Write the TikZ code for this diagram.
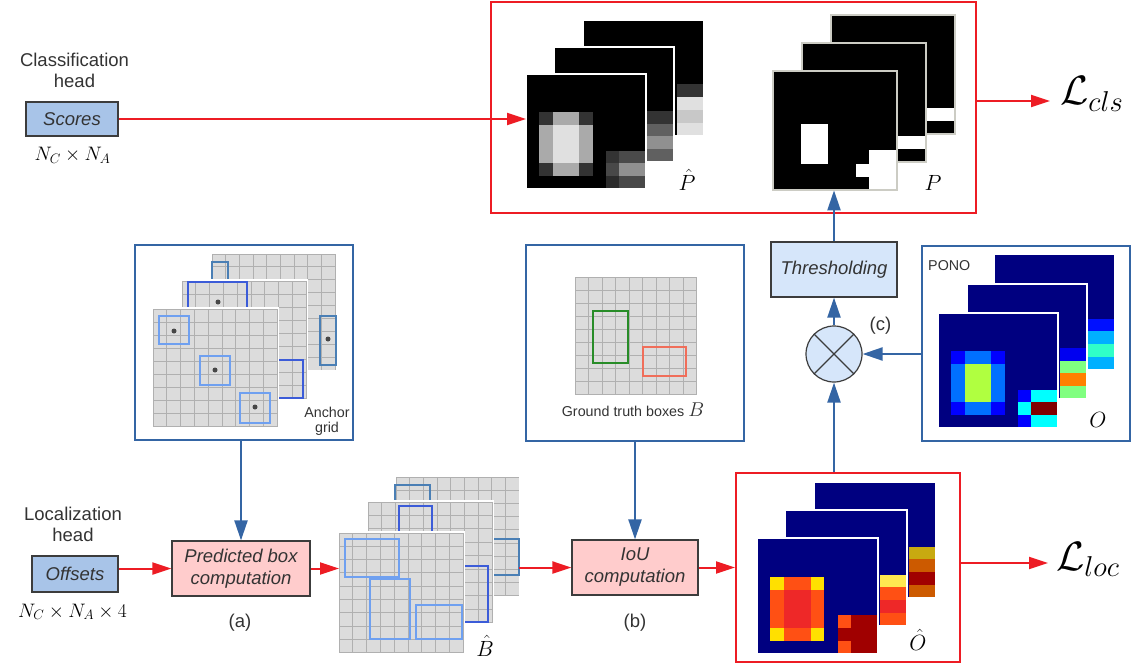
\RequirePackage{fix-cm}
\documentclass[tikz,border=0pt]{standalone}
\usepackage{fontspec}
\setmainfont{Liberation Sans}
\usetikzlibrary{arrows.meta}
\definecolor{redA}{RGB}{237,28,36}
\definecolor{blueA}{RGB}{52,101,164}
\definecolor{boxfill}{RGB}{168,196,232}
\definecolor{lightfill}{RGB}{214,230,250}
\definecolor{pinkfill}{RGB}{255,204,204}
\definecolor{boxdraw}{RGB}{60,60,60}
\definecolor{txt}{RGB}{51,51,51}
\definecolor{gridfill}{RGB}{220,220,220}
\definecolor{gridline}{RGB}{176,176,176}
\definecolor{ancA}{RGB}{111,160,240}
\definecolor{ancB}{RGB}{60,92,216}
\definecolor{ancC}{RGB}{74,127,181}
\definecolor{gtgreen}{RGB}{40,140,40}
\definecolor{gtred}{RGB}{240,110,90}
\definecolor{pborder}{RGB}{204,204,196}
% gray levels
\definecolor{gA}{RGB}{51,51,51}
\definecolor{gB}{RGB}{170,170,170}
\definecolor{gC}{RGB}{224,224,224}
\definecolor{gD}{RGB}{74,74,74}
\definecolor{gE}{RGB}{72,72,72}
\definecolor{gF}{RGB}{144,144,144}
\definecolor{gG}{RGB}{43,43,43}
\definecolor{gH}{RGB}{96,96,96}
\definecolor{gI}{RGB}{200,200,200}
% jet
\definecolor{navy}{RGB}{0,0,128}
\definecolor{jB}{RGB}{0,0,255}
\definecolor{jD}{RGB}{0,112,255}
\definecolor{jY}{RGB}{176,255,64}
\definecolor{jC}{RGB}{0,255,255}
\definecolor{jR}{RGB}{128,0,0}
\definecolor{jB2}{RGB}{0,0,240}
\definecolor{jLG}{RGB}{128,255,128}
\definecolor{jO}{RGB}{255,128,0}
\definecolor{jB3}{RGB}{0,16,255}
\definecolor{jS}{RGB}{0,176,255}
\definecolor{jA}{RGB}{48,255,200}
% hot
\definecolor{hY}{RGB}{255,224,0}
\definecolor{hO}{RGB}{255,80,20}
\definecolor{hR}{RGB}{238,40,40}
\definecolor{hD}{RGB}{160,0,0}
\definecolor{hLY}{RGB}{255,232,80}
\definecolor{hG}{RGB}{200,170,16}
\definecolor{hK}{RGB}{204,90,0}

\newcommand\gridlayer[4]{%
 \begin{scope}[shift={(#1,#2)},x=#3pt,y=-#4pt]
 \fill[gridfill] (0,0) rectangle (9,9);
 \foreach \kk in {0,...,9}{\draw[gridline,line width=1pt] (\kk,0) -- (\kk,9); \draw[gridline,line width=1pt] (0,\kk) -- (9,\kk);}
 \draw[white,line width=1.6pt] (-0.08,-0.08) rectangle (9.08,9.08);
 \end{scope}}
\newcommand\pixlayer[7]{%
 \begin{scope}[shift={(#1,#2)},x=#3pt,y=-#4pt]
 \fill[#5] (0,0) rectangle (9,9);
 \foreach \pA/\pB/\pC/\pD/\pE in {#6}{\fill[\pA] (\pB,\pC) rectangle ++(\pD,\pE);}
 \draw[#7,line width=1.4pt] (0,0) rectangle (9,9);
 \end{scope}}

\begin{document}
\begin{tikzpicture}[x=1pt,y=-1pt,
  lab/.style={font=\fontsize{18.5}{21}\selectfont, text=txt, inner sep=0pt},
  small/.style={font=\fontsize{14.3}{15}\selectfont, text=txt, inner sep=0pt},
  mlab/.style={font=\fontsize{19.5}{21}\selectfont, inner sep=0pt},
  blab/.style={font=\fontsize{22}{24}\selectfont, inner sep=0pt},
  Llab/.style={font=\fontsize{41}{43}\selectfont, inner sep=0pt},
  headbox/.style={draw=boxdraw, line width=1.2pt, fill=boxfill, font=\fontsize{18.5}{21}\selectfont\itshape, text=txt, inner sep=0pt},
  procbox/.style={draw=boxdraw, line width=1.2pt, fill=pinkfill, align=center, font=\fontsize{18.5}{22}\selectfont\itshape, text=txt, inner sep=0pt},
  thrbox/.style={draw=boxdraw, line width=1.2pt, fill=lightfill, font=\fontsize{18.5}{21}\selectfont\itshape, text=txt, inner sep=0pt},
  redframe/.style={draw=redA, line width=1.8pt, inner sep=0pt, anchor=north west},
  blueframe/.style={draw=blueA, line width=1.8pt, inner sep=0pt, anchor=north west},
  area/.style={inner sep=0pt, anchor=north west},
  redarrow/.style={draw=redA, line width=2pt, -{Triangle[length=19pt,width=12pt]}},
  bluearrow/.style={draw=blueA, line width=2.2pt, -{Triangle[length=20pt,width=13pt]}},
  dot/.style={fill=black!72, circle, inner sep=0pt, minimum size=5pt}
]
\useasboundingbox (0,0) rectangle (1134,663);

% ---------- frames ----------
\node[redframe, minimum width=485pt, minimum height=211pt] (clsbox) at (490,1) {};
\node[blueframe, minimum width=218pt, minimum height=195pt] (anchorbox) at (134,244) {};
\node[blueframe, minimum width=218pt, minimum height=196pt] (gtbox) at (525,244) {};
\node[blueframe, minimum width=208pt, minimum height=195pt] (ponobox) at (921,245) {};
\node[redframe, minimum width=224pt, minimum height=189pt] (lochat) at (735,472) {};

% ---------- P hat stack ----------
\pixlayer{583}{20}{13.4}{12.9}{black}{gA/7/5/2/1,gC/7/6/2/1,gI/7/7/2/1,gC/7/8/2/1}{white}
\pixlayer{554}{47}{13.33}{12.78}{black}{gA/7/5/2/1,gH/7/6/2/1,gF/7/7/2/1,gH/7/8/2/1}{white}
\pixlayer{526}{74}{13.33}{12.78}{black}{gA/1/3/1/1,gB/2/3/2/1,gA/4/3/1/1,gB/1/4/1/3,gC/2/4/2/3,gB/4/4/1/3,gA/1/7/1/1,gB/2/7/2/1,gA/4/7/1/1,gA/6/6/1/1,gD/7/6/2/1,gE/6/7/1/1,gF/7/7/2/1,gG/6/8/1/1,gE/7/8/2/1}{white}
\node[area, minimum width=120pt, minimum height=115pt] (phatF) at (526,74) {};
\node[blab, anchor=base] (phatlab) at (687,190) {$\hat{P}$};

% ---------- P stack ----------
\pixlayer{831}{15}{13.78}{13.22}{black}{white/7/7/2/1}{pborder}
\pixlayer{802}{43}{13.78}{13.22}{black}{white/7/7/2/1}{pborder}
\pixlayer{773}{71}{13.78}{13.22}{black}{white/2/4/2/3,white/7/6/2/3,white/6/7/1/1}{pborder}
\node[area, minimum width=124pt, minimum height=119pt] (pF) at (773,71) {};
\node[blab, anchor=base] (plab) at (933,190) {$P$};

% ---------- Anchor grid ----------
\gridlayer{212}{254}{13.7}{12.9}
\draw[ancC, line width=2pt] (212,300) -- (212,262) -- (228,262) -- (228,300);
\draw[ancC, line width=2pt] (320,316) rectangle (336,365);
\node[dot] (ad1) at (328,339) {};
\gridlayer{182}{281}{13.8}{13.1}
\draw[ancB, line width=2pt] (188,320) -- (188,282) -- (247,282) -- (247,320);
\node[dot] (ad2) at (218,302) {};
\draw[ancB, line width=2pt] (260,360) -- (303,360) -- (303,398) -- (260,398);
\gridlayer{153}{309}{13.8}{13.1}
\draw[ancA, line width=2pt] (159,316) rectangle (189,344);
\draw[ancA, line width=2pt] (200,356) rectangle (230,385);
\draw[ancA, line width=2pt] (240,393) rectangle (270,423);
\node[dot] (ad3) at (174,331) {};
\node[dot] (ad4) at (215,370) {};
\node[dot] (ad5) at (255,407) {};
\node[small, align=center, font=\fontsize{14.3}{15}\selectfont] (anclab) at (327,421) {Anchor\\grid};

% ---------- Ground truth ----------
\gridlayer{575}{277}{13.55}{13.1}
\draw[gtgreen, line width=2pt] (593,311) rectangle (628,363);
\draw[gtred, line width=2pt] (643,347) rectangle (686,376);
\node[small, anchor=base] (gtlab) at (633,416) {Ground truth boxes {\fontsize{20}{20}\selectfont$B$}};

% ---------- B hat stack ----------
\gridlayer{396}{477}{13.67}{13.22}
\draw[ancC, line width=2pt] (395,525) -- (395,485) -- (430,485) -- (430,525);
\draw[ancC, line width=2pt] (470,539) -- (519,539) -- (519,575) -- (470,575);
\node[area, minimum width=123pt, minimum height=119pt] (bhatB) at (396,477) {};
\gridlayer{368}{502}{13.8}{13.4}
\draw[ancB, line width=2pt] (399,545) -- (399,506) -- (432,506) -- (432,545);
\draw[ancB, line width=2pt] (440,566) -- (488,566) -- (488,622) -- (440,622);
\gridlayer{339}{533}{13.8}{13.3}
\draw[ancA, line width=2pt] (345,539) rectangle (399,577);
\draw[ancA, line width=2pt] (370,579) rectangle (410,639);
\draw[ancA, line width=2pt] (416,605) rectangle (462,639);
\node[area, minimum width=124pt, minimum height=120pt] (bhatF) at (339,533) {};
\node[blab, anchor=base] (bhatlab) at (485,656) {$\hat{B}$};

% ---------- O (PONO) stack ----------
\pixlayer{994}{254}{13.44}{12.9}{navy}{jB3/7/5/2/1,jS/7/6/2/1,jA/7/7/2/1,jS/7/8/2/1}{white}
\pixlayer{967}{284}{13.33}{12.78}{navy}{jB2/7/5/2/1,jLG/7/6/2/1,jO/7/7/2/1,jLG/7/8/2/1}{white}
\pixlayer{938}{313}{13.33}{12.78}{navy}{jB/1/3/1/1,jD/2/3/2/1,jB/4/3/1/1,jD/1/4/1/3,jY/2/4/2/3,jD/4/4/1/3,jB/1/7/1/1,jD/2/7/2/1,jB/4/7/1/1,jB/6/6/1/1,jC/7/6/2/1,jC/6/7/1/1,jR/7/7/2/1,jB/6/8/1/1,jC/7/8/2/1}{white}
\node[small, anchor=base west] (ponolab) at (928,270) {PONO};
\node[blab, anchor=base] (olab) at (1098,427) {$O$};

% ---------- O hat stack ----------
\pixlayer{814}{482}{13.55}{12.9}{navy}{hG/7/5/2/1,hK/7/6/2/1,hD/7/7/2/1,hK/7/8/2/1}{white}
\pixlayer{785}{510}{13.55}{12.9}{navy}{hLY/7/5/2/1,hO/7/6/2/1,hR/7/7/2/1,hO/7/8/2/1}{white}
\pixlayer{757}{538}{13.44}{12.9}{navy}{hY/1/3/1/1,hO/2/3/2/1,hY/4/3/1/1,hO/1/4/1/3,hR/2/4/2/3,hO/4/4/1/3,hY/1/7/1/1,hO/2/7/2/1,hY/4/7/1/1,hO/6/6/1/1,hD/7/6/2/1,hD/6/7/1/1,hD/7/7/2/1,hO/6/8/1/1,hD/7/8/2/1}{white}
\node[blab, anchor=base] (ohatlab) at (918,650) {$\hat{O}$};

% ---------- heads ----------
\node[lab, anchor=base] (clsT1) at (74.5,67) {Classification};
\node[lab, anchor=base] (clsT2) at (74.5,88) {head};
\node[headbox, minimum width=92pt, minimum height=34pt] (scores) at (72,119) {Scores};
\node[mlab, anchor=base] (scdim) at (72.5,161) {$N_C\times N_A$};

\node[lab, anchor=base] (locT1) at (73,520) {Localization};
\node[lab, anchor=base] (locT2) at (73,541) {head};
\node[headbox, minimum width=86pt, minimum height=36pt] (offsets) at (75,574) {Offsets};
\node[mlab, anchor=base] (ofdim) at (72.5,617) {$N_C\times N_A\times 4$};

% ---------- processing ----------
\node[procbox, minimum width=138pt, minimum height=55pt] (pred) at (241,568.5) {Predicted box\\computation};
\node[lab, anchor=base] (la) at (240,627) {(a)};
\node[procbox, minimum width=126pt, minimum height=55pt] (iou) at (635,567.5) {IoU\\computation};
\node[lab, anchor=base] (lb) at (635,627) {(b)};
\node[thrbox, minimum width=126pt, minimum height=55pt] (thresh) at (834,269.5) {Thresholding};
\node[circle, draw=boxdraw, line width=1.2pt, fill=lightfill, minimum size=56pt, inner sep=0pt] (circ) at (834,354) {};
\draw[boxdraw, line width=1.1pt] (circ.north west) -- (circ.south east) (circ.north east) -- (circ.south west);
\node[lab, anchor=base] (lc) at (880.5,330) {(c)};

% ---------- losses ----------
\node[Llab, anchor=base west] (lcls) at (1060,105) {$\mathcal{L}_{cls}$};
\node[Llab, anchor=base west] (lloc) at (1056,570) {$\mathcal{L}_{loc}$};
\coordinate (lclsin) at (1050,101);
\coordinate (llocin) at (1048,563);

% ---------- connectors ----------
\draw[redarrow] (scores.east) -- (scores.east -| phatF.west);
\draw[redarrow] (clsbox.east |- lclsin) -- (lclsin);
\draw[redarrow] (offsets.east |- pred.west) -- (pred.west);
\draw[bluearrow] (pred.north |- anchorbox.south) -- (pred.north);
\draw[redarrow] (pred.east) -- (pred.east -| bhatF.west);
\draw[redarrow] (iou.west -| bhatB.east) -- (iou.west);
\draw[bluearrow] (iou.north |- gtbox.south) -- (iou.north);
\draw[redarrow] (iou.east) -- (iou.east -| lochat.west);
\draw[redarrow] (lochat.east |- llocin) -- (llocin);
\draw[bluearrow] (circ.south |- lochat.north) -- (circ.south);
\draw[bluearrow] (ponobox.west |- circ.east) -- (circ.east);
\draw[bluearrow] (circ.north) -- (thresh.south);
\draw[bluearrow] (thresh.north) -- (thresh.north |- pF.south);
\end{tikzpicture}
\end{document}
